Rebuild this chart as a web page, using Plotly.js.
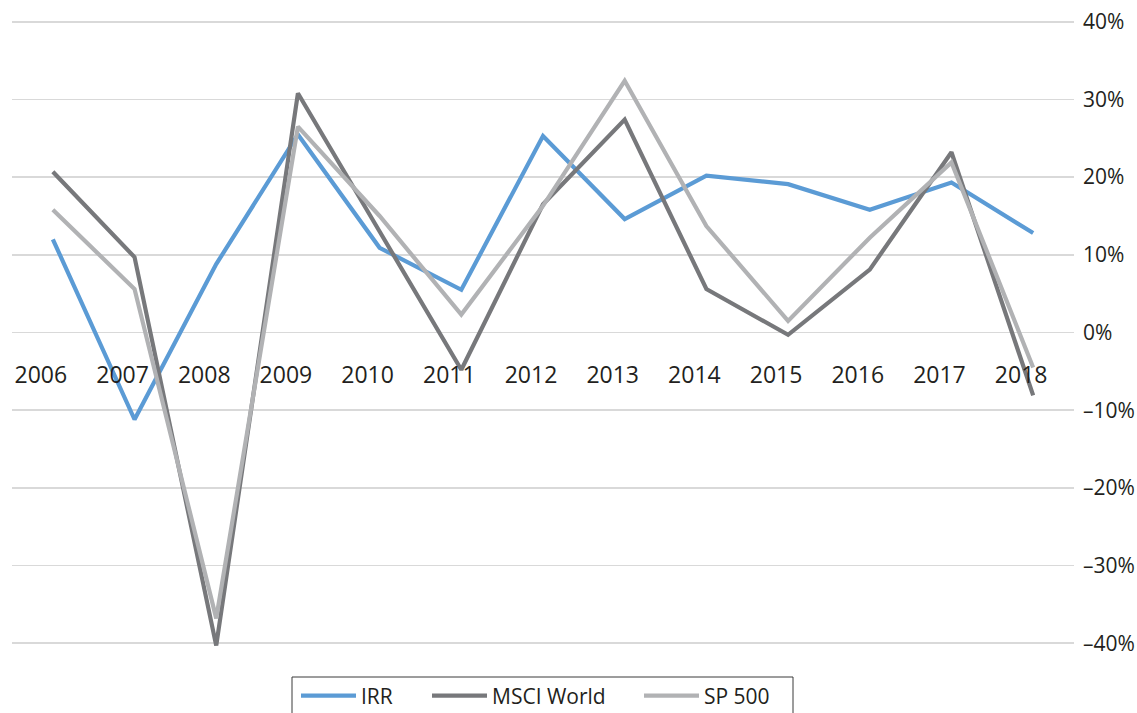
<!DOCTYPE html>
<html>
<head>
<meta charset="utf-8">
<script src="https://cdn.plot.ly/plotly-3.0.1.min.js"></script>
<style>html,body{margin:0;padding:0;background:#fff;}#chart{width:1137px;height:713px;}</style>
</head>
<body>
<div id="chart"></div>
<script>
const years = ["2006","2007","2008","2009","2010","2011","2012","2013","2014","2015","2016","2017","2018"];
const irr = [0.120, -0.112, 0.088, 0.255, 0.109, 0.055, 0.253, 0.146, 0.202, 0.191, 0.158, 0.193, 0.128];
const msci = [0.207, 0.097, -0.403, 0.308, 0.130, -0.048, 0.165, 0.274, 0.056, -0.003, 0.081, 0.232, -0.081];
const sp500 = [0.158, 0.056, -0.368, 0.265, 0.150, 0.023, 0.163, 0.324, 0.137, 0.015, 0.122, 0.219, -0.045];
const yTickVals = [0.4, 0.3, 0.2, 0.1, 0, -0.1, -0.2, -0.3, -0.4];
const yTickText = ["40%", "30%", "20%", "10%", "0%", "–10%", "–20%", "–30%", "–40%"];
const seriesNames = ["IRR", "MSCI World", "SP 500"];

const fontFam = '"Open Sans", "Liberation Sans", sans-serif';
const textColor = '#231f20';

// plot area in pixels
const W = 1137, H = 713, mL = 12, mR = 63, mT = 14, mB = 62;
const pw = W - mL - mR, ph = H - mT - mB;
const px2x = p => (p - mL) / pw;
const py2y = p => (H - mB - p) / ph;

const traces = [
  {x: years, y: irr, name: seriesNames[0], type: 'scatter', mode: 'lines', line: {color: '#5b9bd5', width: 4.2}, legend: 'legend'},
  {x: years, y: msci, name: seriesNames[1], type: 'scatter', mode: 'lines', line: {color: '#77787b', width: 4.2}, legend: 'legend2'},
  {x: years, y: sp500, name: seriesNames[2], type: 'scatter', mode: 'lines', line: {color: '#b1b2b4', width: 4.2}, legend: 'legend3'}
];

function leg(xpx) {
  return {
    orientation: 'h', x: px2x(xpx), xanchor: 'left', y: py2y(696), yanchor: 'middle',
    borderwidth: 0, bgcolor: 'rgba(0,0,0,0)',
    font: {family: fontFam, size: 21, color: textColor},
    itemwidth: 55
  };
}

const layout = {
  width: W, height: H,
  margin: {l: mL, r: mR, t: mT, b: mB, autoexpand: false},
  paper_bgcolor: '#ffffff', plot_bgcolor: '#ffffff',
  font: {family: fontFam, size: 21, color: textColor},
  showlegend: true,
  legend: leg(296),
  legend2: leg(427),
  legend3: leg(639),
  shapes: [{
    type: 'rect', xref: 'paper', yref: 'paper',
    x0: px2x(292), x1: px2x(793), y0: py2y(677), y1: py2y(730),
    line: {color: '#3a3a3a', width: 1}, fillcolor: 'rgba(0,0,0,0)', layer: 'above'
  }],
  xaxis: {
    type: 'category', range: [-0.5, 12.5],
    anchor: 'free', position: 0.5,
    showgrid: false, zeroline: false, showline: false,
    ticks: '', ticklabelstandoff: 26, ticklabelshift: -12,
    tickfont: {family: fontFam, size: 23, color: textColor},
    fixedrange: true
  },
  yaxis: {
    range: [-0.41, 0.41], side: 'right',
    tickvals: yTickVals, ticktext: yTickText,
    showgrid: true, gridcolor: '#d9d9d9', gridwidth: 1.5,
    zeroline: false, showline: false, ticks: '',
    ticklabelstandoff: 8,
    tickfont: {family: fontFam, size: 21, color: textColor},
    fixedrange: true
  }
};

Plotly.newPlot('chart', traces, layout, {displayModeBar: false, staticPlot: true});
</script>
</body>
</html>
